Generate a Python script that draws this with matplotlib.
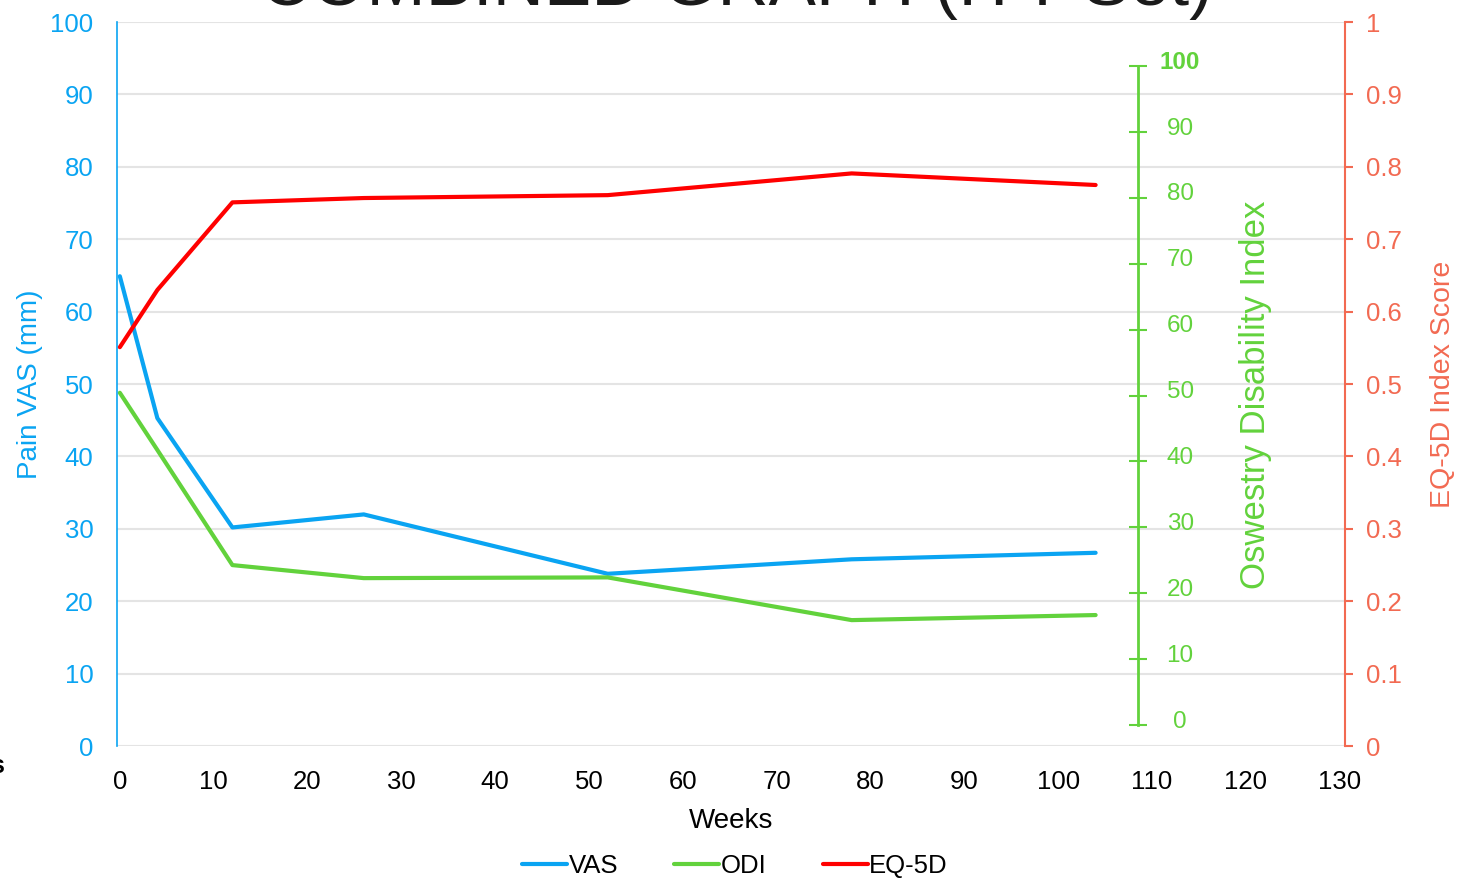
import matplotlib
matplotlib.use('Agg')
import matplotlib.pyplot as plt
from matplotlib.transforms import ScaledTranslation
from matplotlib.ticker import FuncFormatter

plt.rcParams['font.family'] = ['Liberation Sans', 'DejaVu Sans']

# data
weeks = [0, 4, 12, 26, 52, 78, 104]
vas = [64.9, 45.3, 30.2, 32.0, 23.8, 25.8, 26.7]   # Pain VAS (mm)
odi = [48.8, 40.9, 25.0, 23.2, 23.3, 17.4, 18.1]   # plotted on the VAS scale
eq5d = [0.551, 0.630, 0.751, 0.757, 0.761, 0.791, 0.775]

x_ticks = list(range(0, 131, 10))
vas_ticks = list(range(0, 101, 10))
odi_ticks = list(range(0, 101, 10))
eq_ticks = [i / 10 for i in range(11)]

blue = '#0AA4F2'
green = '#62D23C'
red = '#FF0000'
tomato = '#F26A52'

fig = plt.figure(figsize=(14.59, 8.84), dpi=100)
ax = fig.add_axes([0.0802, 0.156, 0.8418, 0.819])

ax.plot(weeks, vas, color=blue, lw=3, label='VAS', solid_capstyle='round')
ax.plot(weeks, odi, color=green, lw=3, label='ODI', solid_capstyle='round')
ax.set_xlim(-0.3, 130.6)
ax.set_ylim(0, 100)
ax.set_xticks(x_ticks)
ax.set_yticks(vas_ticks)
ax.yaxis.grid(True, color='#E4E4E4', lw=1.5)
ax.set_axisbelow(True)
for s in ['top', 'bottom', 'right']:
    ax.spines[s].set_visible(False)
ax.spines['left'].set_color(blue)
ax.spines['left'].set_linewidth(1.2)
ax.tick_params(axis='y', length=0, pad=17, labelsize=18.5, labelcolor=blue)
ax.tick_params(axis='x', length=0, pad=17, labelsize=18.5, labelcolor='black')
ax.set_ylabel('Pain VAS (mm)', color=blue, fontsize=20, labelpad=5.5)
ax.set_xlabel('Weeks', fontsize=20, labelpad=10)

# EQ-5D on right axis
ax2 = ax.twinx()
l3, = ax2.plot(weeks, eq5d, color=red, lw=3, label='EQ-5D', solid_capstyle='round')
ax2.set_ylim(0, 1)
ax2.set_yticks(eq_ticks)
ax2.yaxis.set_major_formatter(FuncFormatter(lambda v, p: '%g' % v))
for s in ['top', 'bottom', 'left']:
    ax2.spines[s].set_visible(False)
ax2.spines['right'].set_color(tomato)
ax2.spines['right'].set_linewidth(1.5)
ax2.tick_params(axis='y', direction='out', length=6, width=1.5, color=tomato,
                labelcolor=tomato, labelsize=18.5, pad=9)
ax2.set_ylabel('EQ-5D Index Score', color=tomato, fontsize=20.5, labelpad=20.5)

# Oswestry axis drawn inside the plot
ax3 = ax.twinx()
ax3.set_ylim(-3.19, 106.68)
ax3.set_yticks(odi_ticks)
for s in ['top', 'bottom', 'left']:
    ax3.spines[s].set_visible(False)
ax3.spines['right'].set_position(('axes', 0.8314))
ax3.spines['right'].set_bounds(0, 100)
ax3.spines['right'].set_color(green)
ax3.spines['right'].set_linewidth(2)
ax3.tick_params(axis='y', direction='inout', length=13, width=1.5, color=green,
                labelcolor=green, labelsize=17.5, pad=0)
for lab in ax3.get_yticklabels():
    lab.set_horizontalalignment('center')
    lab.set_transform(lab.get_transform() + ScaledTranslation(0.33, 0.06, fig.dpi_scale_trans))
ax3.get_yticklabels()[-1].set_fontweight('bold')
fig.text(1255 / 1459, 1 - 395 / 884, 'Oswestry Disability Index', color=green,
         fontsize=25, rotation=90, ha='center', va='center')

# title (cut off at the top in the original)
fig.text(736 / 1459, 1 - 4.5 / 884, 'COMBINED GRAPH (ITT Set)', color='#1A1A1A',
         fontsize=51, ha='center', va='baseline')
fig.text(0.003, 1 - 766 / 884, 's', fontsize=18, fontweight='bold', ha='right', va='center')

h1, lb1 = ax.get_legend_handles_labels()
fig.legend(h1 + [l3], lb1 + ['EQ-5D'], loc='center', bbox_to_anchor=(735 / 1459, 1 - 866 / 884),
           ncol=3, frameon=False, fontsize=18.5, handlelength=1.75, handletextpad=0.05,
           columnspacing=2.2)

fig.savefig('out.png', dpi=100)
